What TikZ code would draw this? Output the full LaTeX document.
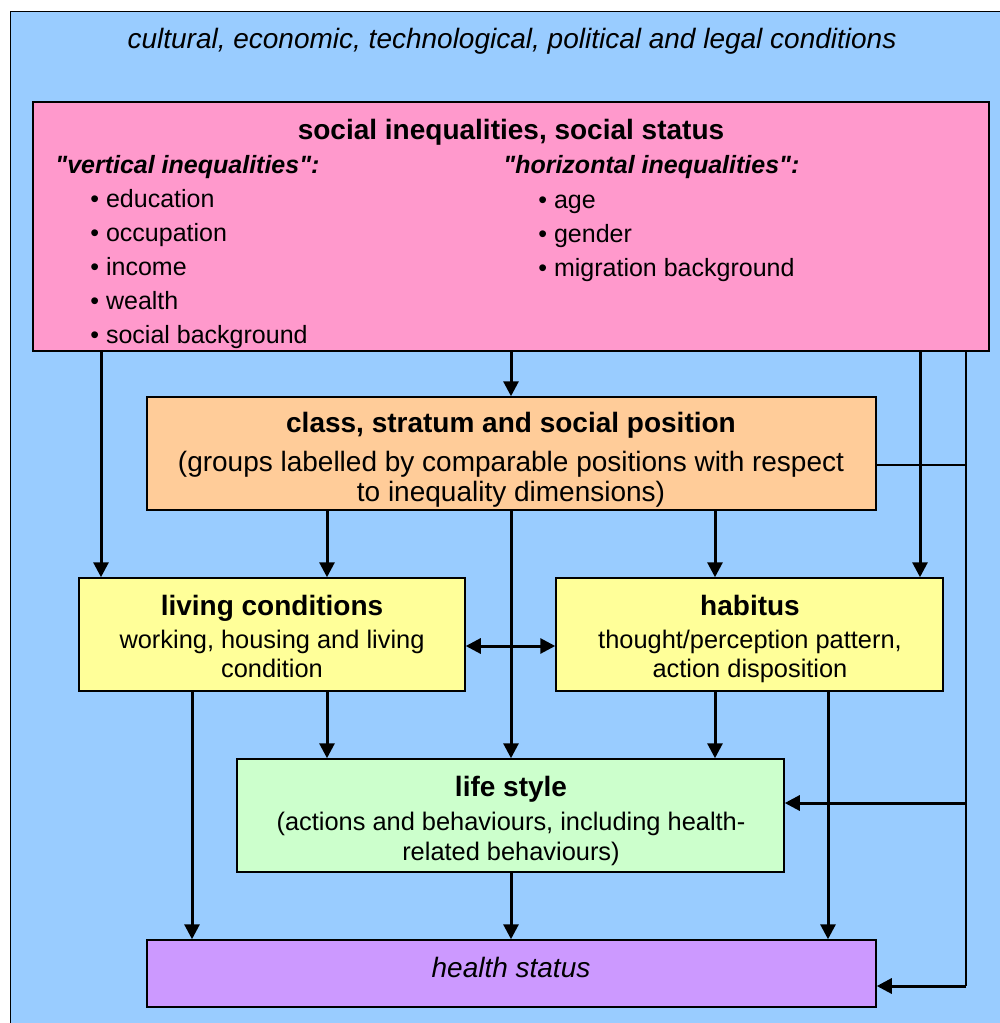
\documentclass[tikz,border=0pt]{standalone}
\usepackage{fontspec}
\setmainfont{Liberation Sans}[Ligatures=TeXOff]
\usetikzlibrary{arrows.meta}
\definecolor{bgblue}{HTML}{99CCFF}
\definecolor{pinkbox}{HTML}{FF99CC}
\definecolor{orangebox}{HTML}{FFCC99}
\definecolor{yellowbox}{HTML}{FFFF99}
\definecolor{greenbox}{HTML}{CCFFCC}
\definecolor{purplebox}{HTML}{CC99FF}
\begin{document}
\begin{tikzpicture}[x=0.5pt,y=-0.5pt,
  box/.style={draw=black, line width=0.75pt, inner sep=0pt, rectangle},
  txt/.style={inner sep=0pt, anchor=base, font=\fontsize{12.5}{15}\selectfont},
  txtm/.style={txt, font=\fontsize{12.7}{15}\selectfont},
  txtb/.style={txt, font=\fontsize{14}{17}\selectfont},
  txtl/.style={txt, anchor=base west},
  arr/.style={line width=1.5pt, -{Triangle[length=7.5pt,width=7.5pt]}},
  dblarr/.style={line width=1.5pt, {Triangle[length=7.5pt,width=7.5pt]}-{Triangle[length=7.5pt,width=7.5pt]}},
  thinl/.style={line width=0.9pt}]
\useasboundingbox (0,0) rectangle (1000,1023);
\clip (0,0) rectangle (1000,1023);
\fill[white] (0,0) rectangle (1000,1023);
\draw[fill=bgblue, line width=0.75pt] (10.5,11.5) rectangle (1030,1050);

% boxes
\node[box, fill=pinkbox, minimum width=478pt, minimum height=124.5pt] (pink) at (511,226.5) {};
\node[box, fill=orangebox, minimum width=364.5pt, minimum height=56.5pt] (orange) at (511.5,453.5) {};
\node[box, fill=yellowbox, minimum width=193pt, minimum height=56.5pt] (living) at (272,634.5) {};
\node[box, fill=yellowbox, minimum width=193.5pt, minimum height=56.5pt] (habitus) at (749.5,634.5) {};
\node[box, fill=greenbox, minimum width=273.5pt, minimum height=56.5pt] (lifestyle) at (510.5,815.5) {};
\node[box, fill=purplebox, minimum width=364.5pt, minimum height=33.5pt] (health) at (511.5,973.5) {};

% texts
\node[txtb] (title) at (512,48) {\itshape cultural, economic, technological, political and legal conditions};
\node[txtb] (pinkT) at (511,139) {\bfseries social inequalities, social status};
\node[txtl] (vert) at (55,173) {\bfseries\itshape "vertical inequalities":};
\node[txtl] (v1) at (90,207) {• education};
\node[txtl] (v2) at (90,241) {• occupation};
\node[txtl] (v3) at (90,275) {• income};
\node[txtl] (v4) at (90,309) {• wealth};
\node[txtl] (v5) at (90,343) {• social background};
\node[txtl] (horiz) at (503,173) {\bfseries\itshape "horizontal inequalities":};
\node[txtl] (h1) at (538,208) {• age};
\node[txtl] (h2) at (538,242) {• gender};
\node[txtl] (h3) at (538,276) {• migration background};

\node[txtb] (orT) at (511,432) {\bfseries class, stratum and social position};
\node[txtb] (or1) at (511,471) {(groups labelled by comparable positions with respect};
\node[txtb] (or2) at (511,501) {to inequality dimensions)};

\node[txtb] (livT) at (272,615) {\bfseries living conditions};
\node[txtm] (liv1) at (272,648) {working, housing and living};
\node[txtm] (liv2) at (272,677) {condition};

\node[txtb] (habT) at (750,615) {\bfseries habitus};
\node[txtm] (hab1) at (750,648) {thought/perception pattern,};
\node[txtm] (hab2) at (750,677) {action disposition};

\node[txtb] (lsT) at (511,796) {\bfseries life style};
\node[txtm] (ls1) at (511,830) {(actions and behaviours, including health-};
\node[txtm] (ls2) at (511,860) {related behaviours)};

\node[txtb] (hsT) at (511,977) {\itshape health status};

% helper coordinates
\coordinate (x101) at (101,0);
\coordinate (x192) at (192,0);
\coordinate (x327) at (327,0);
\coordinate (x511) at (511,0);
\coordinate (x715) at (715,0);
\coordinate (x828) at (828,0);
\coordinate (x920) at (920,0);
\coordinate (x966) at (966,0);
\coordinate (y465) at (0,465);
\coordinate (y646) at (0,646);
\coordinate (y803) at (0,803);
\coordinate (y986) at (0,986);

% connectors
\draw[arr] (pink.south -| x101) -- (living.north -| x101);
\draw[arr] (pink.south -| x511) -- (orange.north -| x511);
\draw[arr] (pink.south -| x920) -- (habitus.north -| x920);
\draw[thinl] (pink.south -| x966) -- (x966 |- y986);
\draw[thinl] (orange.east |- y465) -- (x966 |- y465);
\draw[arr] (x966 |- y803) -- (lifestyle.east |- y803);
\draw[arr] (x966 |- y986) -- (health.east |- y986);
\draw[arr] (orange.south -| x327) -- (living.north -| x327);
\draw[arr] (orange.south -| x715) -- (habitus.north -| x715);
\draw[arr] (orange.south -| x511) -- (lifestyle.north -| x511);
\draw[dblarr] (living.east |- y646) -- (habitus.west |- y646);
\draw[arr] (living.south -| x327) -- (lifestyle.north -| x327);
\draw[arr] (habitus.south -| x715) -- (lifestyle.north -| x715);
\draw[arr] (living.south -| x192) -- (health.north -| x192);
\draw[arr] (lifestyle.south -| x511) -- (health.north -| x511);
\draw[arr] (habitus.south -| x828) -- (health.north -| x828);
\end{tikzpicture}
\end{document}
